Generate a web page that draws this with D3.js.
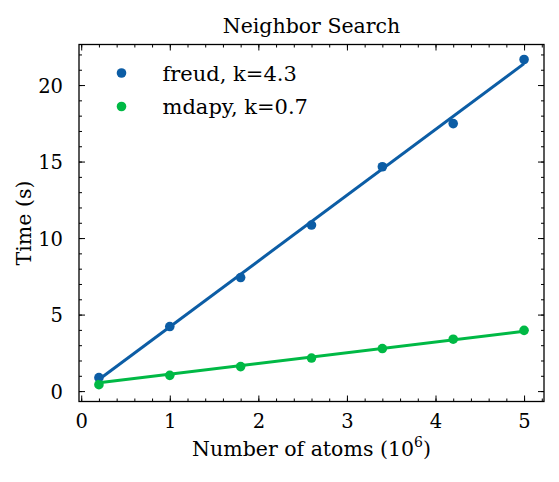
<!DOCTYPE html>
<html>
<head>
<meta charset="utf-8">
<script src="https://cdn.jsdelivr.net/npm/d3@7"></script>
<style>
  body { margin: 0; background: #fff; }
  svg text { font-family: "DejaVu Serif", serif; fill: #000; }
</style>
</head>
<body>
<svg id="chart" width="559" height="482"></svg>
<script>
// data
var atoms = [0.2, 1.0, 1.8, 2.6, 3.4, 4.2, 5.0];
var freudTime = [0.88, 4.22, 7.42, 10.85, 14.66, 17.48, 21.67];
var mdapyTime = [0.42, 1.03, 1.60, 2.16, 2.78, 3.39, 3.97];
var fitX = [0.2, 5.0];
var freudFit = [0.76, 21.4];
var mdapyFit = [0.55, 3.91];
var seriesNames = ['freud, k=4.3', 'mdapy, k=0.7'];
var colors = ['#0C5DA5', '#00B945'];
var xTicks = [0, 1, 2, 3, 4, 5];
var yTicks = [0, 5, 10, 15, 20];

var margin = { left: 79, top: 44.5, right: 559 - 544, bottom: 482 - 401.5 };
var svg = d3.select('#chart');
var w = 559 - margin.left - margin.right,
    h = 482 - margin.top - margin.bottom;
var fs = 19.5;

var x = d3.scaleLinear().domain([-0.025, 5.225]).range([0, w]);
var y = d3.scaleLinear().domain([-0.68, 22.65]).range([h, 0]);

var g = svg.append('g').attr('transform', 'translate(' + margin.left + ',' + margin.top + ')');

// axes, ticks pointing in, on all four sides
function styleAxis(sel) {
    sel.select('.domain').remove();
    sel.selectAll('line').attr('stroke', '#000').attr('stroke-width', 1);
}
var xMinor = d3.range(0, 5.21, 0.2);
var yMinor = d3.range(0, 22.5, 1);

g.append('g').attr('transform', 'translate(0,' + h + ')')
    .call(d3.axisBottom(x).tickValues(xMinor).tickSize(-3).tickFormat(''))
    .call(styleAxis);
g.append('g').attr('transform', 'translate(0,' + h + ')')
    .call(d3.axisBottom(x).tickValues(xTicks).tickSize(-6).tickPadding(13).tickFormat(d3.format('d')))
    .call(styleAxis)
    .selectAll('text').attr('font-size', fs);
g.append('g')
    .call(d3.axisTop(x).tickValues(xMinor).tickSize(-3).tickFormat(''))
    .call(styleAxis);
g.append('g')
    .call(d3.axisTop(x).tickValues(xTicks).tickSize(-6).tickFormat(''))
    .call(styleAxis);

g.append('g')
    .call(d3.axisLeft(y).tickValues(yMinor).tickSize(-3).tickFormat(''))
    .call(styleAxis);
g.append('g')
    .call(d3.axisLeft(y).tickValues(yTicks).tickSize(-6).tickPadding(16).tickFormat(d3.format('d')))
    .call(styleAxis)
    .selectAll('text').attr('font-size', fs).attr('dy', '0.36em');
g.append('g').attr('transform', 'translate(' + w + ',0)')
    .call(d3.axisRight(y).tickValues(yMinor).tickSize(-3).tickFormat(''))
    .call(styleAxis);
g.append('g').attr('transform', 'translate(' + w + ',0)')
    .call(d3.axisRight(y).tickValues(yTicks).tickSize(-6).tickFormat(''))
    .call(styleAxis);

g.append('rect').attr('width', w).attr('height', h)
    .attr('fill', 'none').attr('stroke', '#000').attr('stroke-width', 1.3);

// scatter points
var series = [freudTime, mdapyTime];
series.forEach(function(vals, i) {
    g.selectAll('.pt' + i).data(atoms).enter().append('circle')
        .attr('class', 'pt' + i)
        .attr('cx', function(d) { return x(d); })
        .attr('cy', function(d, j) { return y(vals[j]); })
        .attr('r', 4.8)
        .attr('fill', colors[i]);
});

// fitted lines
var line = d3.line().x(function(d) { return x(d[0]); }).y(function(d) { return y(d[1]); });
[freudFit, mdapyFit].forEach(function(fit, i) {
    g.append('path')
        .datum(d3.zip(fitX, fit))
        .attr('d', line)
        .attr('fill', 'none')
        .attr('stroke', colors[i])
        .attr('stroke-width', 3);
});

// legend
var leg = svg.append('g');
seriesNames.forEach(function(name, i) {
    var ly = 73 + i * 33.5;
    leg.append('circle').attr('cx', 121.5).attr('cy', ly).attr('r', 4.8).attr('fill', colors[i]);
    leg.append('text').attr('x', 162.5).attr('y', ly).attr('dy', '0.36em')
        .attr('font-size', 21).text(name);
});

// title + labels
svg.append('text').attr('x', margin.left + w / 2).attr('y', 33)
    .attr('text-anchor', 'middle').attr('font-size', 20.5).text('Neighbor Search');

var xl = svg.append('text').attr('x', margin.left + w / 2).attr('y', 456)
    .attr('text-anchor', 'middle').attr('font-size', 20.5);
xl.append('tspan').text('Number of atoms (10');
xl.append('tspan').attr('font-size', 14).attr('dy', -9).text('6');
xl.append('tspan').attr('dy', 9).text(')');

svg.append('text').attr('transform', 'translate(31,' + (margin.top + h / 2) + ') rotate(-90)')
    .attr('text-anchor', 'middle').attr('font-size', 20.5).text('Time (s)');
</script>
</body>
</html>
